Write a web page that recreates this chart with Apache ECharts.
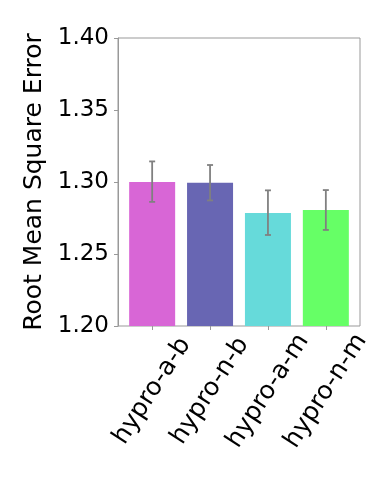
<!DOCTYPE html>
<html>
<head>
<meta charset="utf-8">
<script src="https://cdn.jsdelivr.net/npm/echarts@6/dist/echarts.min.js"></script>
<style>html,body{margin:0;padding:0;background:#fff;}#c{width:390px;height:488px;}</style>
</head>
<body>
<div id="c"></div>
<script>
var categories = ['hypro-a-b', 'hypro-n-b', 'hypro-a-m', 'hypro-n-m'];
var rmse = [1.300, 1.2995, 1.2785, 1.2805];
var errLow = [1.2862, 1.2872, 1.2632, 1.2667];
var errHigh = [1.3143, 1.3118, 1.2942, 1.2944];
var barColors = ['#d866d6', '#6866b3', '#66dada', '#66ff66'];
var yTicks = [1.20, 1.25, 1.30, 1.35, 1.40];

var chart = echarts.init(document.getElementById('c'), null, {renderer: 'canvas'});
var positions = categories.map(function (_, i) { return i; });
var font = 'DejaVu Sans';
chart.setOption({
  animation: false,
  backgroundColor: '#fff',
  grid: {left: 118, right: 30, top: 38, bottom: 162, show: true, borderColor: '#999', borderWidth: 1},
  xAxis: {
    type: 'value', min: -0.59, max: 3.59,
    axisLine: {show: false, onZero: false},
    splitLine: {show: false},
    axisTick: {show: true, customValues: positions, length: 4, lineStyle: {color: '#999'}},
    axisLabel: {
      customValues: positions,
      formatter: function (v) { return categories[Math.round(v)]; },
      rotate: 57, align: 'center', verticalAlign: 'middle', margin: 65,
      fontFamily: font, fontSize: 25, color: '#000', hideOverlap: false
    }
  },
  yAxis: {
    type: 'value', min: yTicks[0], max: yTicks[yTicks.length - 1], interval: 0.05,
    name: 'Root Mean Square Error', nameLocation: 'middle', nameGap: 57, nameRotate: 90,
    nameTextStyle: {fontFamily: font, fontSize: 25, color: '#000'},
    axisLine: {show: true, onZero: false, lineStyle: {color: '#999'}},
    splitLine: {show: false},
    axisTick: {show: true, length: 4, lineStyle: {color: '#999'}},
    axisLabel: {formatter: function (v) { return v.toFixed(2); }, fontFamily: font, fontSize: 23, color: '#000', margin: 9}
  },
  series: [{
    type: 'bar',
    barWidth: 46,
    data: rmse.map(function (v, i) { return {value: [i, v], itemStyle: {color: barColors[i]}}; }),
    clip: true
  }, {
    type: 'custom',
    z: 10,
    data: errLow.map(function (lo, i) { return [i, lo, errHigh[i]]; }),
    renderItem: function (params, api) {
      var x = api.value(0);
      var lo = api.coord([x, api.value(1)]);
      var hi = api.coord([x, api.value(2)]);
      var cap = 3;
      var st = {stroke: '#808080', lineWidth: 1.8};
      return {type: 'group', children: [
        {type: 'line', shape: {x1: lo[0], y1: lo[1], x2: hi[0], y2: hi[1]}, style: st},
        {type: 'line', shape: {x1: lo[0] - cap, y1: lo[1], x2: lo[0] + cap, y2: lo[1]}, style: st},
        {type: 'line', shape: {x1: hi[0] - cap, y1: hi[1], x2: hi[0] + cap, y2: hi[1]}, style: st}
      ]};
    }
  }]
});
</script>
</body>
</html>
